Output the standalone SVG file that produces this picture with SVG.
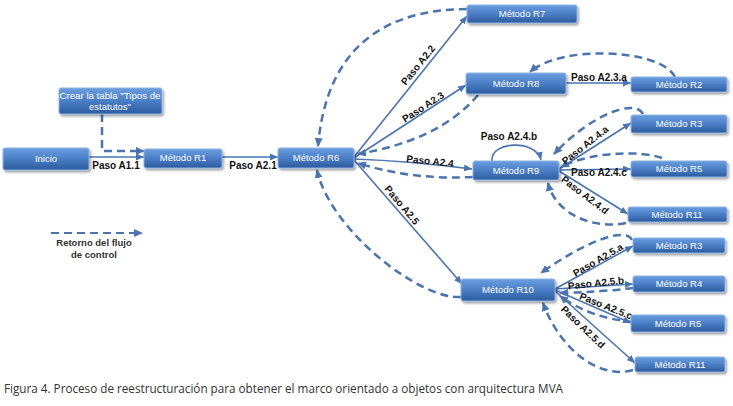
<svg xmlns="http://www.w3.org/2000/svg" width="733" height="406" viewBox="0 0 733 406">
<defs>
<linearGradient id="g" x1="0" y1="0" x2="0" y2="1">
<stop offset="0" stop-color="#6b9ee0"/>
<stop offset="0.5" stop-color="#4a7ec6"/>
<stop offset="1" stop-color="#2c5b9c"/>
</linearGradient>
<filter id="sh" x="-10%" y="-30%" width="130%" height="180%">
<feDropShadow dx="1.5" dy="2" stdDeviation="1.2" flood-color="#000" flood-opacity="0.35"/>
</filter>
<marker id="ar" markerUnits="userSpaceOnUse" markerWidth="8" markerHeight="7" refX="8" refY="3.5" orient="auto">
<path d="M0,0 L8,3.5 L0,7 z" fill="#4a74b0"/>
</marker>
<marker id="dar" markerUnits="userSpaceOnUse" markerWidth="9" markerHeight="8" refX="8" refY="4" orient="auto">
<path d="M0,0 L9,4 L0,8 z" fill="#4a74b0"/>
</marker>
</defs>
<style>
.node rect{fill:url(#g);stroke:#8db3e2;stroke-width:1;filter:url(#sh)}
.node text{fill:#fff;font-family:"Liberation Sans",Arial,sans-serif;font-size:9.5px;text-anchor:middle}
.ln{fill:none;stroke:#4a74b0;stroke-width:1.6;marker-end:url(#ar)}
.dl{fill:none;stroke:#4a74b0;stroke-width:2.5;stroke-dasharray:8 5;marker-end:url(#dar)}
.lab{fill:#111;font-family:"Liberation Sans",Arial,sans-serif;font-size:10px;font-weight:bold;text-anchor:middle}
.leg{fill:#333;font-family:"Liberation Sans",Arial,sans-serif;font-size:9.5px;font-weight:bold;text-anchor:middle}
.cap{fill:#333;font-family:"Open Sans","Liberation Sans",sans-serif;font-size:12.5px}
</style>
<rect width="733" height="406" fill="#fff"/>

<g id="connectors">
<path class="ln" d="M89,157 L144,157"/>
<path class="ln" d="M222,157 L278,157"/>
<path class="ln" d="M354,157 L467,16"/>
<path class="ln" d="M354,158 L466,85"/>
<path class="ln" d="M354,159 Q410,161 472,169"/>
<path class="ln" d="M354,160 L462,284"/>
<path class="ln" d="M566,83 L631,83"/>
<path class="ln" d="M559,169 L631,123"/>
<path class="ln" d="M559,170 L631,169"/>
<path class="ln" d="M559,171 L628,214"/>
<path class="ln" d="M492,161 C490,141 536,139 541,160"/>
<path class="ln" d="M555,289 L633,246"/>
<path class="ln" d="M555,289 L633,284"/>
<path class="ln" d="M555,290 L631,323"/>
<path class="ln" d="M555,291 L635,363"/>

<path class="dl" d="M102,114 L102,151 L144,151"/>
<path class="dl" d="M467,9 Q330,10 318,146"/>
<path class="dl" d="M478,95 Q440,140 358,154"/>
<path class="dl" d="M675,77 C660,48 560,45 530,72"/>
<path class="dl" d="M473,177 Q410,180 358,163"/>
<path class="dl" d="M461,297 C420,300 330,230 317,170"/>
<path class="dl" d="M643,114 C635,98 590,115 554,154"/>
<path class="dl" d="M662,158 C640,150 590,152 561,167"/>
<path class="dl" d="M626,223 C590,230 555,212 548,183"/>
<path class="dl" d="M632,240 C625,225 580,245 541,273"/>
<path class="dl" d="M633,288 Q600,292 560,293"/>
<path class="dl" d="M633,322 Q590,318 560,296"/>
<path class="dl" d="M633,370 C600,380 560,350 543,303"/>
<path class="dl" d="M51,233 L142,233" style="stroke-width:2"/>
</g>

<g id="labels">
<text class="lab" x="116" y="168.5">Paso A1.1</text>
<text class="lab" x="253" y="168.5">Paso A2.1</text>
<text class="lab" transform="translate(418,65) rotate(-51)" y="3.5">Paso A2.2</text>
<text class="lab" transform="translate(423,107) rotate(-33)" y="3.5">Paso A2.3</text>
<text class="lab" transform="translate(430,161) rotate(6)" y="3.5">Paso A2.4</text>
<text class="lab" transform="translate(402,205) rotate(50)" y="3.5">Paso A2.5</text>
<text class="lab" x="599" y="81">Paso A2.3.a</text>
<text class="lab" x="509" y="140">Paso A2.4.b</text>
<text class="lab" transform="translate(585,145) rotate(-38)" y="3.5">Paso A2.4.a</text>
<text class="lab" x="599" y="176">Paso A2.4.c</text>
<text class="lab" transform="translate(585,195) rotate(37)" y="3.5">Paso A2.4.d</text>
<text class="lab" transform="translate(598,260) rotate(-30)" y="3.5">Paso A2.5.a</text>
<text class="lab" transform="translate(596,283) rotate(-6)" y="3.5">Paso A2.5.b</text>
<text class="lab" transform="translate(606,306) rotate(22)" y="3.5">Paso A2.5.c</text>
<text class="lab" transform="translate(583,327) rotate(44)" y="3.5">Paso A2.5.d</text>
<text class="leg" x="94" y="246">Retorno del flujo</text>
<text class="leg" x="94" y="258">de control</text>
</g>

<g id="n-inicio" class="node"><rect x="3" y="148" width="86" height="22" rx="2"/><text x="46" y="162">Inicio</text></g>
<g id="n-crear" class="node"><rect x="59" y="88" width="103" height="26" rx="2"/><text x="110" y="99" textLength="101" lengthAdjust="spacingAndGlyphs">Crear la tabla "Tipos de</text><text x="110" y="110">estatutos"</text></g>
<g id="n-r1" class="node"><rect x="144" y="149" width="78" height="19" rx="2"/><text x="183" y="161">Método R1</text></g>
<g id="n-r6" class="node"><rect x="278" y="148" width="76" height="20" rx="2"/><text x="316" y="161">Método R6</text></g>
<g id="n-r7" class="node"><rect x="467" y="5" width="110" height="18" rx="2"/><text x="522" y="17">Método R7</text></g>
<g id="n-r8" class="node"><rect x="466" y="73" width="100" height="21" rx="2"/><text x="516" y="87">Método R8</text></g>
<g id="n-r2" class="node"><rect x="631" y="77" width="96" height="15" rx="2"/><text x="679" y="88">Método R2</text></g>
<g id="n-r9" class="node"><rect x="473" y="161" width="86" height="19" rx="2"/><text x="516" y="174">Método R9</text></g>
<g id="n-r3a" class="node"><rect x="631" y="115" width="96" height="18" rx="2"/><text x="679" y="127">Método R3</text></g>
<g id="n-r5a" class="node"><rect x="631" y="161" width="96" height="16" rx="2"/><text x="679" y="172">Método R5</text></g>
<g id="n-r11a" class="node"><rect x="628" y="207" width="99" height="15" rx="2"/><text x="677" y="218">Método R11</text></g>
<g id="n-r10" class="node"><rect x="461" y="279" width="94" height="22" rx="2"/><text x="508" y="293">Método R10</text></g>
<g id="n-r3b" class="node"><rect x="633" y="238" width="92" height="15" rx="2"/><text x="679" y="249">Método R3</text></g>
<g id="n-r4" class="node"><rect x="633" y="276" width="92" height="16" rx="2"/><text x="679" y="287">Método R4</text></g>
<g id="n-r5b" class="node"><rect x="631" y="315" width="94" height="17" rx="2"/><text x="678" y="327">Método R5</text></g>
<g id="n-r11b" class="node"><rect x="635" y="357" width="90" height="15" rx="2"/><text x="680" y="368">Método R11</text></g>

<text class="cap" x="4" y="393" textLength="559" lengthAdjust="spacingAndGlyphs">Figura 4. Proceso de reestructuración para obtener el marco orientado a objetos con arquitectura MVA</text>
</svg>
